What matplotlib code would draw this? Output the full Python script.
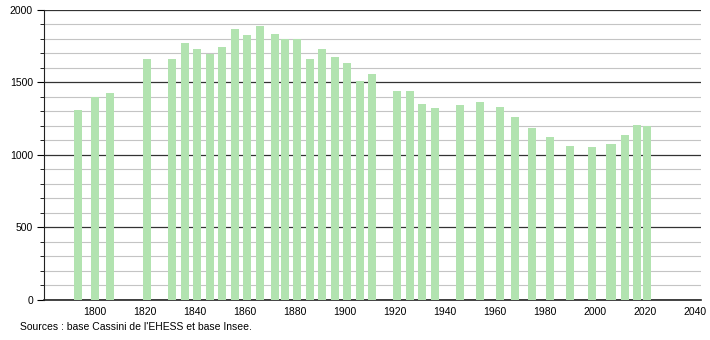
import numpy as np
import matplotlib
matplotlib.use("Agg")
import matplotlib.pyplot as plt
from matplotlib.ticker import MultipleLocator

plt.rcParams['font.family'] = ['Liberation Sans', 'DejaVu Sans']

years = [1793, 1800, 1806, 1821, 1831, 1836, 1841, 1846, 1851, 1856, 1861, 1866,
         1872, 1876, 1881, 1886, 1891, 1896, 1901, 1906, 1911, 1921, 1926, 1931,
         1936, 1946, 1954, 1962, 1968, 1975, 1982, 1990, 1999, 2006, 2007, 2012,
         2017, 2021]
population = [1310, 1400, 1428, 1660, 1660, 1772, 1731, 1694, 1745, 1869, 1828, 1890,
              1834, 1798, 1798, 1660, 1731, 1676, 1634, 1510, 1559, 1441, 1441, 1352,
              1324, 1345, 1366, 1331, 1262, 1186, 1124, 1062, 1055, 1076, 1076, 1138,
              1207, 1200]
xticks = list(range(1800, 2041, 20))
source = "Sources : base Cassini de l'EHESS et base Insee."

fig = plt.figure(figsize=(7.1, 3.4), dpi=100)
ax = fig.add_axes([0.062, 0.118, 0.925, 0.853])

ax.bar(years, population, width=3.2, color='#b2e3b0', zorder=3)

ax.set_xlim(1779.6, 2042.4)
ax.set_ylim(0, 2000)
ax.set_xticks(xticks)
ax.yaxis.set_major_locator(MultipleLocator(500))
ax.yaxis.set_minor_locator(MultipleLocator(100))

ax.grid(which='major', axis='y', color='#333333', linewidth=0.9, zorder=1)
ax.grid(which='minor', axis='y', color='#c4c4c4', linewidth=0.8, zorder=0)
ax.set_axisbelow(True)

for s in ['top', 'right']:
    ax.spines[s].set_visible(False)
ax.spines['left'].set_color('#222222')
ax.spines['bottom'].set_color('#222222')
ax.spines['bottom'].set_linewidth(1.2)

ax.tick_params(axis='x', length=0, labelsize=7.5, pad=5)
ax.tick_params(axis='y', which='major', length=5, labelsize=7.5, pad=3)
ax.tick_params(axis='y', which='minor', length=3)

fig.text(20 / 710, 1 - 327 / 340, source, fontsize=7.5, va='center', ha='left')

fig.savefig('out.png', dpi=100)
